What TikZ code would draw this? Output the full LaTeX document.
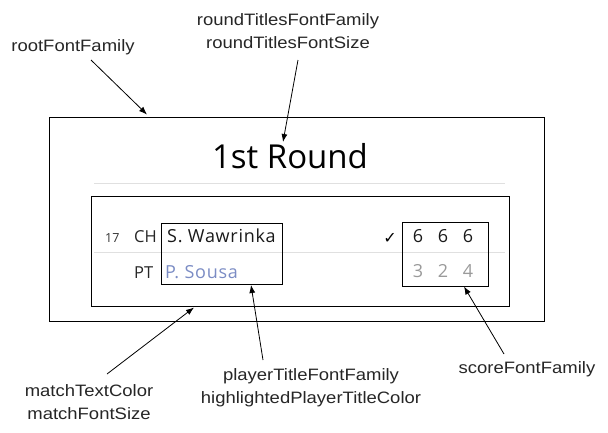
\documentclass[tikz,border=0pt]{standalone}
\usepackage{fontspec}
\setmainfont{Liberation Sans}[FakeStretch=1.12]
\newfontfamily\cardfont{Open Sans}
\newfontfamily\namefont{Open Sans}[LetterSpace=4]
\newfontfamily\tickfont{DejaVu Sans}
\usetikzlibrary{arrows.meta}
\definecolor{rulegrey}{HTML}{E0E0E0}
\definecolor{playerblue}{HTML}{7B8CC4}
\definecolor{losergrey}{HTML}{9A9A9A}
\begin{document}
\begin{tikzpicture}[
                        x=1pt, y=-1pt,
                        >={Latex[length=8pt,width=6pt]},
                        box/.style={draw, line width=1pt, inner sep=0pt},
                        note/.style={align=center, text=black!85, font=\fontsize{16.5}{23}\selectfont},
                        rowtext/.style={anchor=base west, inner sep=0pt, font=\namefont\fontsize{18}{18}\selectfont},
                        digit/.style={anchor=base, inner sep=0pt, font=\cardfont\fontsize{18}{18}\selectfont},
                        pointer/.style={->, line width=0.8pt}
                    ]
                    \useasboundingbox (0,0) rectangle (608,432);
                    % Blocks
                    \node [box, minimum width=495pt, minimum height=204pt] (rootbox) at (296.5,219) {};
                    \node [anchor=base, inner sep=0pt, font=\cardfont\fontsize{33}{33}\selectfont] (title) at (290,168) {1st Round};
                    \draw [rulegrey, line width=1pt] (94,183) -- (505,183);
                    \node [box, minimum width=418pt, minimum height=110pt] (matchbox) at (300,251) {};
                    \draw [rulegrey, line width=1pt] (94,252.5) -- (505,252.5);
                    \node [box, minimum width=121pt, minimum height=61pt] (namebox) at (221.5,253.5) {};
                    \node [box, minimum width=86pt, minimum height=64pt] (scorebox) at (445,254) {};

                    % Match rows
                    \node [rowtext, text=black!80, font=\cardfont\fontsize{12.5}{12.5}\selectfont] (seed) at (105,242) {17};
                    \node [rowtext, text=black!85, font=\cardfont\fontsize{16.5}{16.5}\selectfont] (cc1) at (134,242) {CH};
                    \node [rowtext, text=black!85, font=\cardfont\fontsize{16.5}{16.5}\selectfont] (cc2) at (134,278) {PT};
                    \node [rowtext, text=black!90] (p1) at (167,242) {S. Wawrinka};
                    \node [rowtext, text=playerblue] (p2) at (165,278) {P. Sousa};
                    \node [inner sep=0pt, font=\tickfont\fontsize{16}{16}\selectfont] (tick) at (390,238) {✓};
                    \node [digit, text=black!90] (s11) at (418,242) {6};
                    \node [digit, text=black!90] (s12) at (443,242) {6};
                    \node [digit, text=black!90] (s13) at (468,242) {6};
                    \node [digit, text=losergrey] (s21) at (418,277.5) {3};
                    \node [digit, text=losergrey] (s22) at (443,277.5) {2};
                    \node [digit, text=losergrey] (s23) at (468,277.5) {4};

                    % Notes
                    \node [note] (rootnote) at (73,47) {rootFontFamily};
                    \node [note] (roundnote) at (288,31) {roundTitlesFontFamily\\roundTitlesFontSize};
                    \node [note] (matchnote) at (89,402) {matchTextColor\\matchFontSize};
                    \node [note] (playernote) at (311,388) {playerTitleFontFamily\\highlightedPlayerTitleColor};
                    \node [note] (scorenote) at (527,369) {scoreFontFamily};

                    % Connections
                    \coordinate (roottail) at (91,60);
                    \coordinate (roothead) at (147,114.5);
                    \coordinate (roundtail) at (298,60);
                    \coordinate (roundhead) at (283,142);
                    \coordinate (matchtail) at (107,374);
                    \coordinate (matchhead) at (194,307.5);
                    \coordinate (playertail) at (263,360);
                    \coordinate (playerhead) at (251,285);
                    \coordinate (scoretail) at (504,354);
                    \coordinate (scorehead) at (464,286.5);
                    \draw [pointer] (roottail) -- (roothead);
                    \draw [pointer] (roundtail) -- (roundhead);
                    \draw [pointer] (matchtail) -- (matchhead);
                    \draw [pointer] (playertail) -- (playerhead);
                    \draw [pointer] (scoretail) -- (scorehead);
                \end{tikzpicture}
\end{document}
